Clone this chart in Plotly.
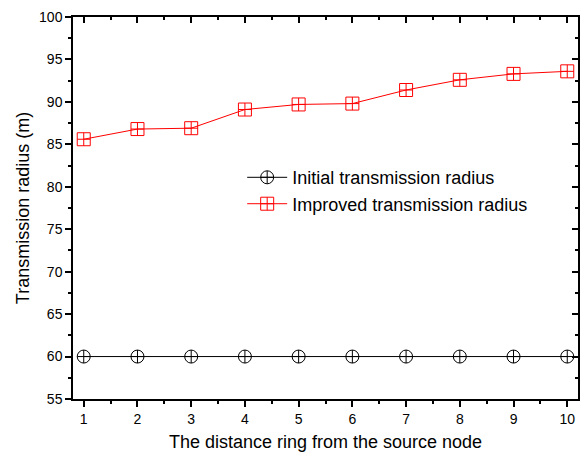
import plotly.graph_objects as go

rings = [1, 2, 3, 4, 5, 6, 7, 8, 9, 10]
initial_radius = [60, 60, 60, 60, 60, 60, 60, 60, 60, 60]
improved_radius = [85.6, 86.8, 86.9, 89.1, 89.7, 89.8, 91.4, 92.6, 93.3, 93.6]
y_ticks = [55, 60, 65, 70, 75, 80, 85, 90, 95, 100]

fig = go.Figure()
fig.add_trace(go.Scatter(
    x=rings, y=initial_radius, mode="lines+markers",
    name="Initial transmission radius",
    line=dict(color="black", width=1),
    marker=dict(symbol="circle-cross-open", size=13, color="black", line=dict(width=1)),
))
fig.add_trace(go.Scatter(
    x=rings, y=improved_radius, mode="lines+markers",
    name="Improved transmission radius",
    line=dict(color="red", width=1),
    marker=dict(symbol="square-cross-open", size=13, color="red", line=dict(width=1)),
))
# invisible trace for mirrored axes
fig.add_trace(go.Scatter(x=[rings[0]], y=[initial_radius[0]], xaxis="x2", yaxis="y2",
                         mode="markers", marker=dict(opacity=0), showlegend=False, hoverinfo="skip"))

xr = [0.8, 10.2]
yr = [55, 100]
common = dict(showgrid=False, zeroline=False, linecolor="black", linewidth=1.5,
              tickcolor="black", tickwidth=1.5, ticklen=6,
              tickfont=dict(family="Arial", size=14, color="black"))

fig.update_layout(
    width=587, height=458,
    margin=dict(l=73, r=9, t=15, b=59),
    plot_bgcolor="white", paper_bgcolor="white",
    font=dict(family="Arial", color="black"),
    xaxis=dict(range=xr, tickvals=rings, ticks="outside", showline=True,
               minor=dict(ticks="outside", ticklen=3, tickwidth=1.5, tickcolor="black", dtick=0.5, tick0=0.5),
               title=dict(text="The distance ring from the source node", font=dict(size=18, family="Arial"), standoff=10),
               **common),
    yaxis=dict(range=yr, tickvals=y_ticks, ticks="outside", showline=True,
               minor=dict(ticks="outside", ticklen=3, tickwidth=1.5, tickcolor="black", dtick=2.5, tick0=0),
               title=dict(text="Transmission radius (m)", font=dict(size=18, family="Arial"), standoff=5),
               **common),
    xaxis2=dict(range=xr, overlaying="x", side="top", tickvals=rings, ticks="inside", showline=True,
                showticklabels=False,
                minor=dict(ticks="inside", ticklen=3, tickwidth=1.5, tickcolor="black", dtick=0.5, tick0=0.5),
                **common),
    yaxis2=dict(range=yr, overlaying="y", side="right", tickvals=y_ticks,
                ticks="inside", showline=True, showticklabels=False,
                minor=dict(ticks="inside", ticklen=3, tickwidth=1.5, tickcolor="black", dtick=2.5, tick0=0),
                **common),
    legend=dict(x=0.335, y=0.628, xanchor="left", yanchor="top", bgcolor="rgba(0,0,0,0)",
                font=dict(family="Arial", size=18, color="black"), tracegroupgap=0, itemwidth=40),
    showlegend=True,
)

fig.write_html("out.html")
